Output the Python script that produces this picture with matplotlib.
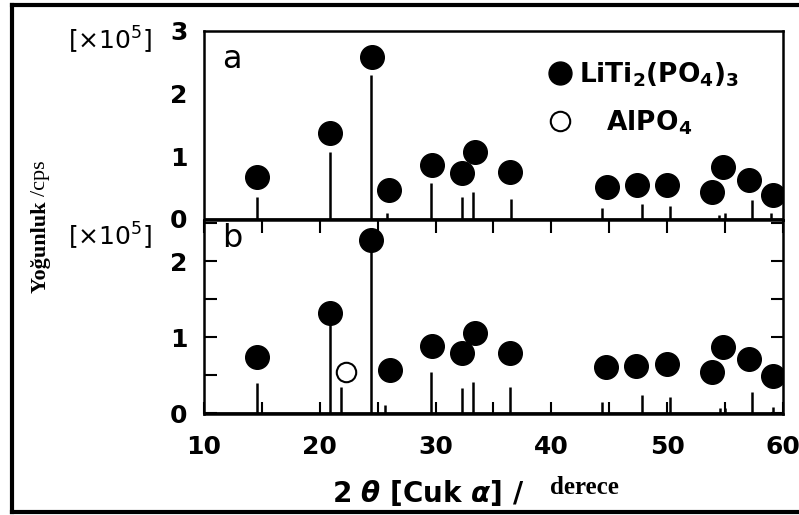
import matplotlib
matplotlib.use('Agg')
import matplotlib.pyplot as plt
from matplotlib.lines import Line2D
from matplotlib.ticker import MultipleLocator

plt.rcParams['mathtext.fontset'] = 'custom'
plt.rcParams['mathtext.rm'] = 'DejaVu Sans'
plt.rcParams['mathtext.bf'] = 'DejaVu Sans:bold'
plt.rcParams['mathtext.it'] = 'DejaVu Sans:italic:bold'

# Peak positions (2theta) and heights (x10^5 cps)
peaks_a_x = [14.6, 20.9, 24.4, 25.8, 29.6, 32.3, 33.2, 36.5, 44.4, 47.8, 50.2, 54.5, 55.0, 57.3, 59.0]
peaks_a_y = [0.35, 1.07, 2.30, 0.10, 0.57, 0.35, 0.43, 0.32, 0.17, 0.24, 0.21, 0.06, 0.10, 0.30, 0.10]

peaks_b_x = [14.6, 20.9, 21.8, 24.4, 25.6, 29.6, 32.3, 33.2, 36.4, 44.4, 47.8, 50.2, 54.6, 55.0, 57.3, 59.1]
peaks_b_y = [0.39, 1.22, 0.34, 2.20, 0.10, 0.54, 0.33, 0.41, 0.34, 0.14, 0.24, 0.21, 0.06, 0.07, 0.28, 0.08]

# LiTi2(PO4)3 markers
mark_a_x = [14.6, 20.9, 24.5, 26.0, 29.7, 32.3, 33.4, 36.4, 44.8, 47.4, 50.0, 53.9, 54.8, 57.1, 59.1]
mark_a_y = [0.67, 1.37, 2.58, 0.46, 0.86, 0.73, 1.07, 0.75, 0.51, 0.54, 0.54, 0.43, 0.83, 0.62, 0.38]

mark_b_x = [14.6, 20.9, 24.4, 26.1, 29.7, 32.3, 33.4, 36.4, 44.7, 47.3, 50.0, 53.9, 54.8, 57.1, 59.1]
mark_b_y = [0.74, 1.32, 2.28, 0.57, 0.88, 0.79, 1.05, 0.79, 0.61, 0.62, 0.64, 0.54, 0.87, 0.71, 0.49]

# AlPO4 marker
alpo_x = [22.3]
alpo_y = [0.54]

sans = 'DejaVu Sans'
fig = plt.figure(figsize=(7.99, 5.15), dpi=100)

L, R = 204 / 799, 783 / 799
ya0, ya1 = 1 - 220 / 515, 1 - 31 / 515
yb0, yb1 = 1 - 414 / 515, 1 - 220 / 515
ax_a = fig.add_axes([L, ya0, R - L, ya1 - ya0])
ax_b = fig.add_axes([L, yb0, R - L, yb1 - yb0])

for ax, px, py, mx, my in [(ax_a, peaks_a_x, peaks_a_y, mark_a_x, mark_a_y),
                           (ax_b, peaks_b_x, peaks_b_y, mark_b_x, mark_b_y)]:
    ax.vlines(px, 0, py, color='black', lw=1.8)
    ax.axhline(0, color='black', lw=2)
    ax.plot(mx, my, 'o', color='black', ms=17, ls='none')
    ax.set_xlim(10, 60)
    for s in ax.spines.values():
        s.set_linewidth(1.8)

ax_b.plot(alpo_x, alpo_y, 'o', mfc='white', mec='black', mew=1.5, ms=14, ls='none')

# panel a
ax_a.set_ylim(-0.016, 3.0)
ax_a.set_yticks([0, 1, 2, 3])
ax_a.tick_params(axis='y', length=0, pad=12, labelsize=18)
ax_a.tick_params(axis='x', bottom=False, labelbottom=False)
for t in ax_a.get_yticklabels():
    t.set_fontweight('bold')
    t.set_family(sans)

# panel b
ax_b.set_ylim(-0.013, 2.54)
ax_b.set_yticks([0, 1, 2])
ax_b.yaxis.set_minor_locator(MultipleLocator(0.5))
ax_b.set_xticks([10, 20, 30, 40, 50, 60])
ax_b.xaxis.set_minor_locator(MultipleLocator(5))
ax_b.tick_params(which='both', direction='in', top=True, right=True, length=9, width=1.5)
ax_b.tick_params(axis='y', pad=12, labelsize=18)
ax_b.tick_params(axis='x', pad=15, labelsize=18)
for t in ax_b.get_yticklabels() + ax_b.get_xticklabels():
    t.set_fontweight('bold')
    t.set_family(sans)

ax_a.text(0.032, 0.93, 'a', transform=ax_a.transAxes, fontsize=23, family=sans, va='top')
ax_b.text(0.032, 0.985, 'b', transform=ax_b.transAxes, fontsize=23, family=sans, va='top')

# legend
handles = [Line2D([], [], marker='o', color='black', ls='none', ms=16.5),
           Line2D([], [], marker='o', mfc='white', mec='black', mew=1.5, ls='none', ms=14)]
labels = [r'$\mathbf{LiTi_2(PO_4)_3}$', r'   $\mathbf{AlPO_4}$']
ax_a.legend(handles, labels, loc='upper left', bbox_to_anchor=(0.587, 0.845), frameon=False,
            prop={'family': sans, 'weight': 'bold', 'size': 19},
            handletextpad=0.1, labelspacing=0.75, handlelength=1.25, borderaxespad=0,
            borderpad=0)

# scale labels
fig.text(68 / 799, 1 - 40 / 515, '[\u00d710$^5$]', fontsize=18, family=sans, va='center', ha='left')
fig.text(68 / 799, 1 - 236 / 515, '[\u00d710$^5$]', fontsize=18, family=sans, va='center', ha='left')

# axis labels
t1 = fig.text(41 / 799, 1 - 293 / 515, 'Yo\u011funluk ', rotation=90, family='Liberation Serif',
              fontweight='bold', fontsize=16, ha='center', va='bottom')
fig.canvas.draw()
bb = t1.get_window_extent()
fig.text(41 / 799, bb.y1 / fig.bbox.height, '/cps', rotation=90, family='Liberation Serif',
         fontsize=16, ha='center', va='bottom')
fig.text(332 / 799, 1 - 493 / 515, r'2 $\theta$ [Cuk $\alpha$] /', family=sans,
         fontweight='bold', fontsize=20, ha='left', va='center')
fig.text(550 / 799, 1 - 487 / 515, 'derece', family='Liberation Serif', fontweight='bold',
         fontsize=18, ha='left', va='center')

# outer frame
fig.add_artist(Line2D([12 / 799, 12 / 799], [1 - 5 / 515, 1 - 512 / 515], color='black', lw=3))
fig.add_artist(Line2D([12 / 799, 1], [1 - 5 / 515, 1 - 5 / 515], color='black', lw=3))
fig.add_artist(Line2D([12 / 799, 1], [1 - 512 / 515, 1 - 512 / 515], color='black', lw=3))

fig.savefig('out.png', dpi=100)
